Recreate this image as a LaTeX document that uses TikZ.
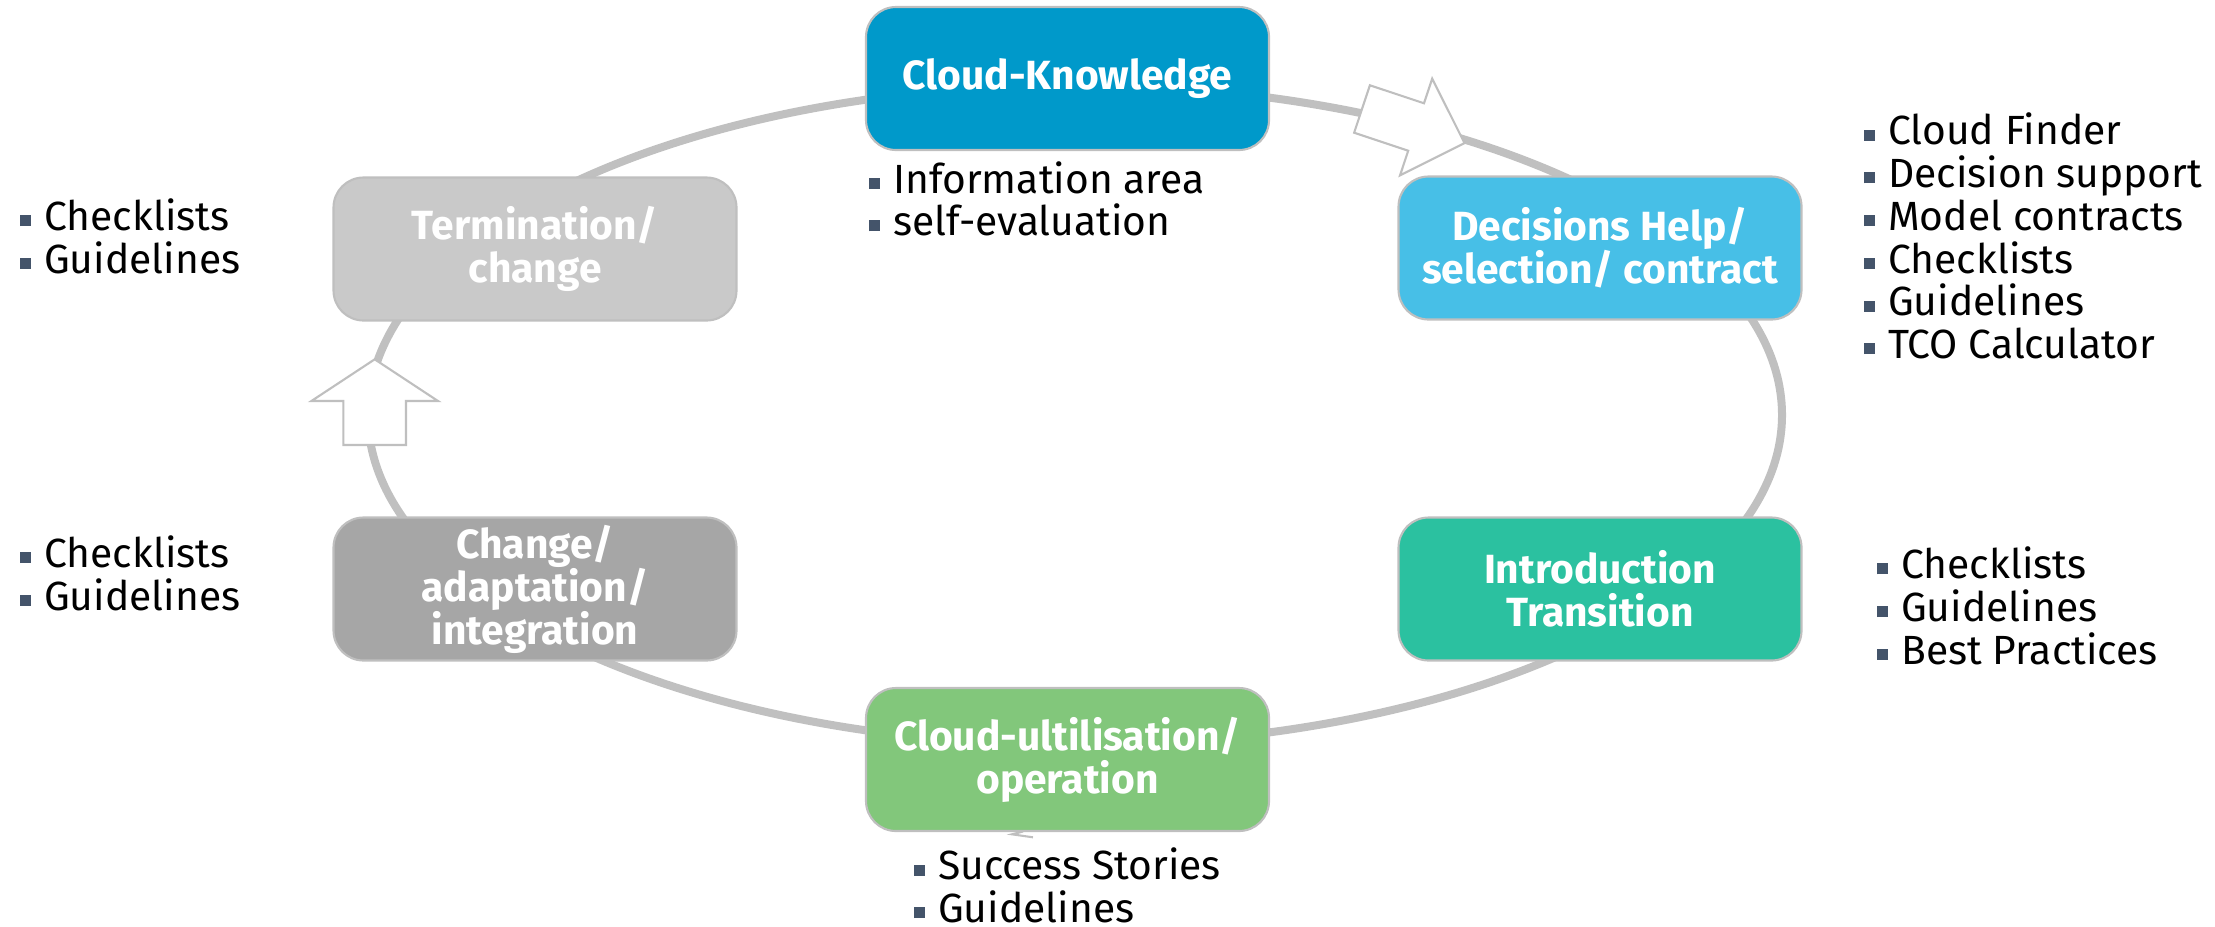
\documentclass[tikz,border=0pt]{standalone}
\usepackage{fontspec}
\setmainfont{Fira Sans}
\usepackage{tikz}
\definecolor{knowblue}{RGB}{0,153,202}
\definecolor{decideblue}{RGB}{71,191,231}
\definecolor{introgreen}{RGB}{43,193,160}
\definecolor{usegreen}{RGB}{130,199,123}
\definecolor{adaptgray}{RGB}{166,166,166}
\definecolor{endgray}{RGB}{201,201,201}
\definecolor{linegray}{RGB}{192,192,192}
\definecolor{bordergray}{RGB}{191,191,191}
\definecolor{bulletgray}{RGB}{68,84,106}
\newcommand{\sqitem}{\textcolor{bulletgray}{\rule[0.043cm]{0.11cm}{0.11cm}}\hspace{0.135cm}}
\tikzset{
    phase/.style={draw=bordergray, line width=0.6pt, rounded corners=0.3cm,
        minimum width=4.03cm, minimum height=1.43cm, inner sep=0pt,
        align=center, text=white, font=\fontsize{11.6}{12.2}\selectfont\bfseries},
    % base west sits on the last line of the list
    itemlist/.style={anchor=base west, inner sep=0pt, align=left,
        font=\fontsize{11.6}{12.15}\selectfont},
    cycleline/.style={draw=linegray, line width=0.08cm},
    blockarrow/.style={draw=bordergray, line width=0.6pt, fill=white}
}

\begin{document}
\begin{tikzpicture}
    \useasboundingbox (0,0) rectangle (22.15,-9.26);

    % Life cycle ring
    \draw[cycleline] (10.75,-4.15) ellipse [x radius=7.07, y radius=3.30];
    \draw[bordergray, line width=0.6pt] (10.23,-8.315) -- (10.12,-8.343) -- (10.33,-8.373);

    % Phases, clockwise from the top
    \node[phase, fill=knowblue] (knowledge) at (10.675,-0.785) {Cloud-Knowledge};
    \node[phase, fill=decideblue] (decision) at (16.00,-2.48) {Decisions Help/\\selection/ contract};
    \node[phase, fill=introgreen] (intro) at (16.00,-5.89) {Introduction\\Transition};
    \node[phase, fill=usegreen] (operation) at (10.675,-7.595) {Cloud-ultilisation/\\operation};
    \node[phase, fill=adaptgray] (adapt) at (5.35,-5.89) {Change/\\adaptation/\\integration};
    \node[phase, fill=endgray] (termination) at (5.35,-2.49) {Termination/\\change};

    % Direction arrows
    \draw[blockarrow, shift={(13.62,-1.09)}, rotate=-18.4]
        (0,0.25) -- (0.57,0.25) -- (0.57,0.51) -- (1.08,0)
        -- (0.57,-0.51) -- (0.57,-0.25) -- (0,-0.25) -- cycle;
    \draw[blockarrow, shift={(3.747,-4.45)}, rotate=90]
        (0,0.313) -- (0.44,0.313) -- (0.44,0.633) -- (0.857,0)
        -- (0.44,-0.633) -- (0.44,-0.313) -- (0,-0.313) -- cycle;

    % Offers per phase
    \node[itemlist] (knowledgeoffers) at (8.68,-2.357) {\sqitem Information area\\\sqitem self-evaluation};
    \node[itemlist] (decisionoffers) at (18.63,-3.585) {\sqitem Cloud Finder\\\sqitem Decision support\\\sqitem Model contracts\\\sqitem Checklists\\\sqitem Guidelines\\\sqitem TCO Calculator};
    \node[itemlist] (introoffers) at (18.76,-6.64) {\sqitem Checklists\\\sqitem Guidelines\\\sqitem Best Practices};
    \node[itemlist] (operationoffers) at (9.13,-9.225) {\sqitem Success Stories\\\sqitem Guidelines};
    \node[itemlist] (adaptoffers) at (0.19,-6.10) {\sqitem Checklists\\\sqitem Guidelines};
    \node[itemlist] (terminationoffers) at (0.19,-2.73) {\sqitem Checklists\\\sqitem Guidelines};
\end{tikzpicture}
\end{document}
